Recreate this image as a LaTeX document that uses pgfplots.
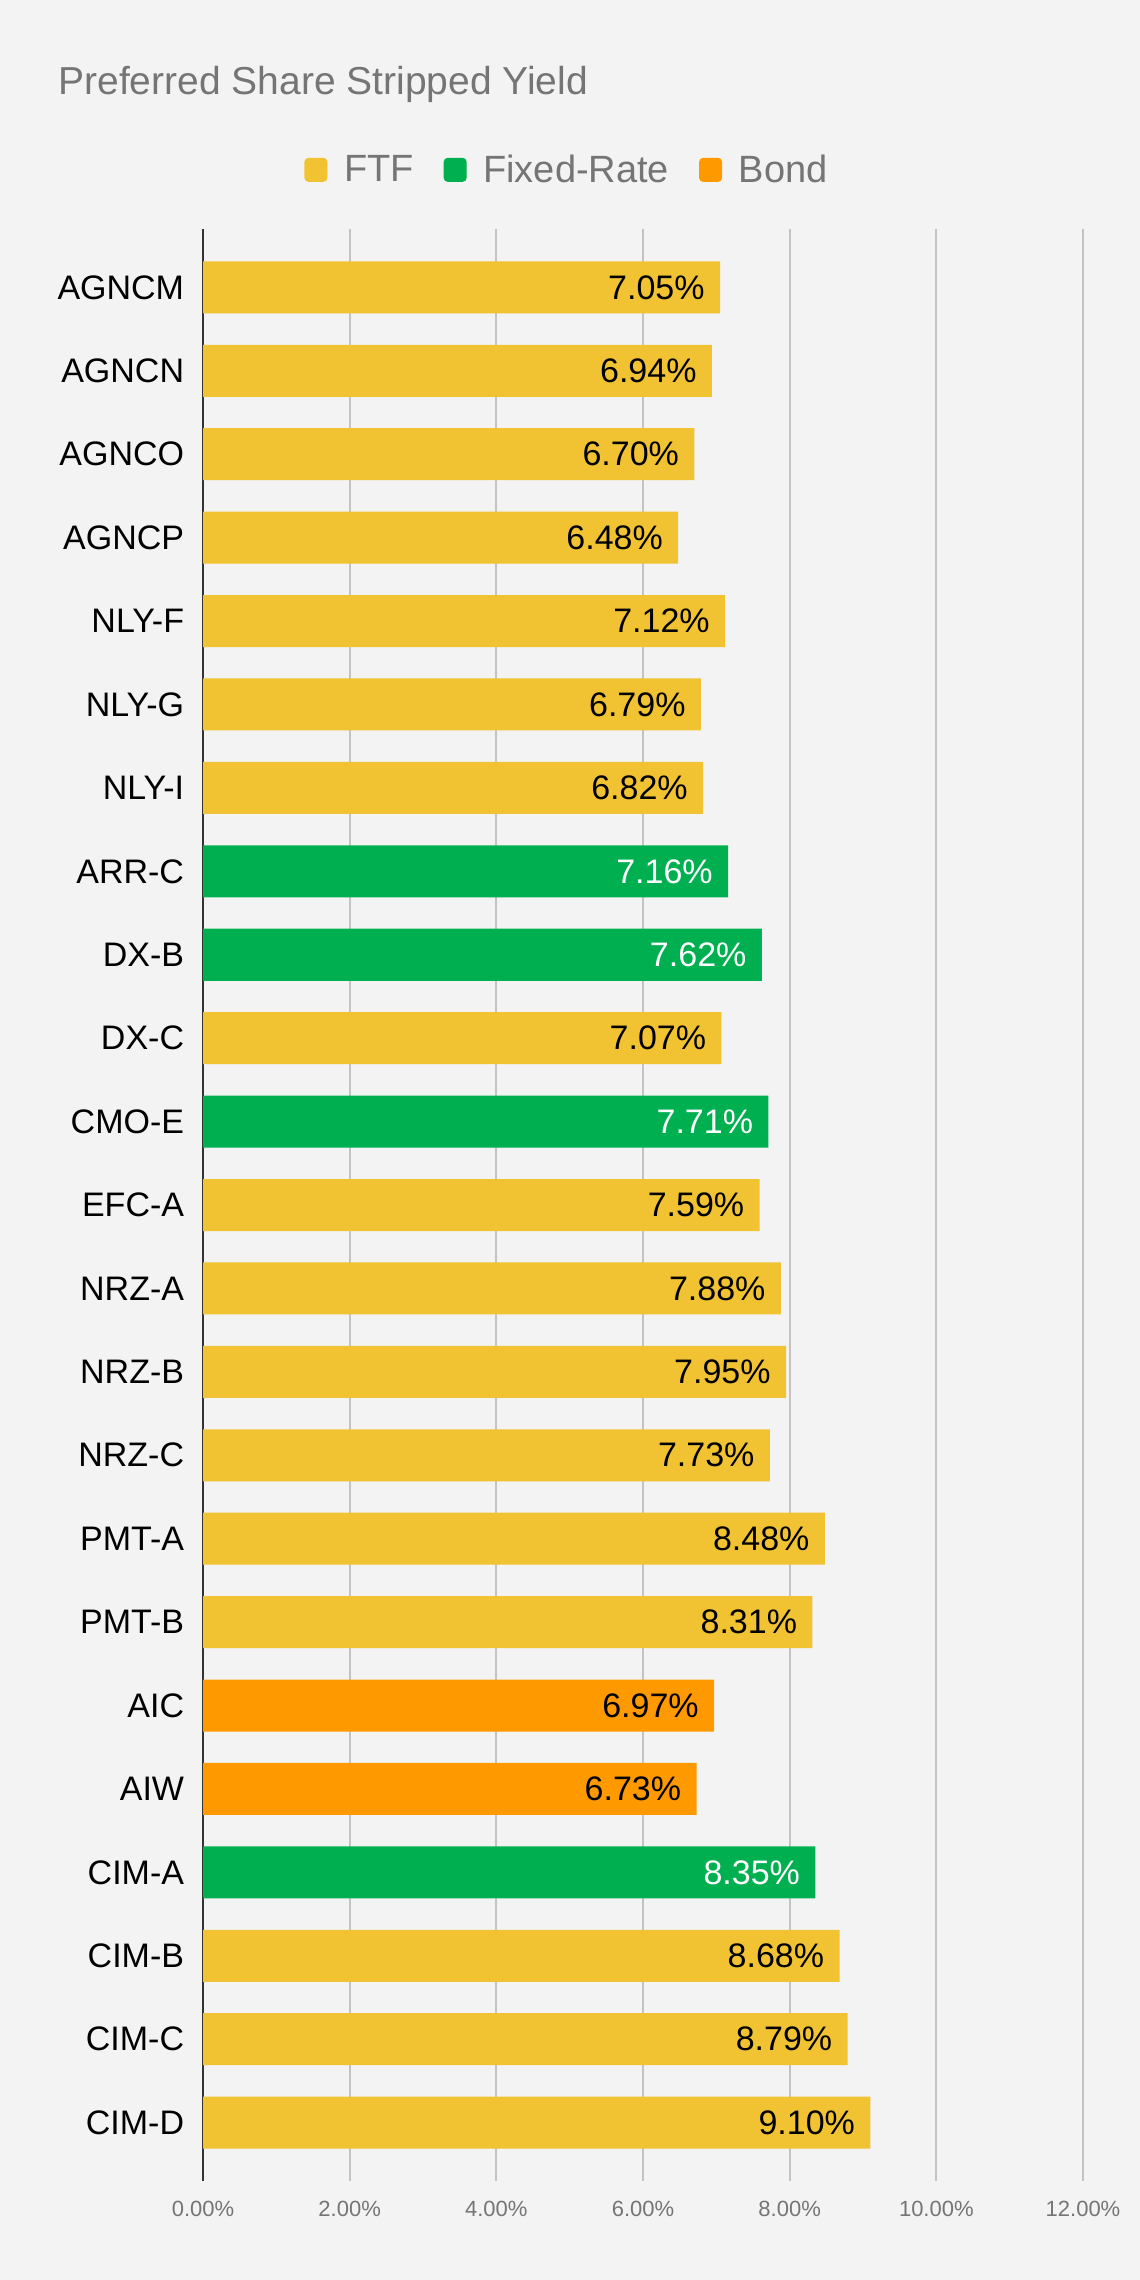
\documentclass[border=0pt]{standalone}
\usepackage{fontspec}
\setmainfont{Liberation Sans}
\usepackage{pgfplots}
\pgfplotsset{compat=1.18}
\definecolor{bg}{HTML}{F3F3F3}
\definecolor{ftf}{HTML}{F1C232}
\definecolor{fixed}{HTML}{00B050}
\definecolor{bond}{HTML}{FF9900}
\definecolor{txtgray}{HTML}{757575}
\definecolor{gridgray}{HTML}{C3C3C3}
\definecolor{axisdark}{HTML}{333333}
\pgfplotsset{sq legend/.style={legend image code/.code={\fill[##1,draw=none,rounded corners=2pt] (0pt,-6pt) rectangle (11.5pt,6pt);}}}
\begin{document}
\begin{tikzpicture}
\fill[bg] (0pt,0pt) rectangle (570pt,1140pt);
\node[anchor=base west, text=txtgray, font=\fontsize{19.5}{23}\selectfont, inner sep=0pt] at (29pt,1092.5pt) {Preferred Share Stripped Yield};
\begin{axis}[
  at={(101.5pt,49.5pt)}, anchor=south west,
  scale only axis, width=440pt, height=976pt,
  xmin=0, xmax=12, ymin=-0.7, ymax=22.7, y dir=reverse,
  xbar, bar shift=0pt, bar width=26pt,
  axis line style={draw=none},
  tick style={draw=none},
  /pgf/number format/assume math mode=true,
  xtick={0,2,4,6,8,10,12},
  xticklabels={0.00\%,2.00\%,4.00\%,6.00\%,8.00\%,10.00\%,12.00\%},
  xticklabel style={font=\fontsize{11}{13}\selectfont, text=txtgray, inner sep=0pt, yshift=-10pt},
  ytick={0,...,22},
  yticklabels={AGNCM,AGNCN,AGNCO,AGNCP,NLY-F,NLY-G,NLY-I,ARR-C,DX-B,DX-C,CMO-E,EFC-A,NRZ-A,NRZ-B,NRZ-C,PMT-A,PMT-B,AIC,AIW,CIM-A,CIM-B,CIM-C,CIM-D},
  yticklabel style={font=\fontsize{17}{20}\selectfont, inner sep=0pt, xshift=-5pt},
  xmajorgrids, major grid style={gridgray, line width=1pt},
  extra x ticks={0}, extra x tick labels={},
  extra x tick style={grid=major, major grid style={axisdark, line width=1pt}},
  point meta=x,
  nodes near coords={\pgfmathprintnumber[fixed,fixed zerofill,precision=2]{\pgfplotspointmeta}\%},
  nodes near coords style={anchor=east, inner sep=0pt, xshift=-7.5pt, font=\fontsize{17}{20}\selectfont},
  legend columns=-1,
  legend style={at={(0.1148,1.0303)}, anchor=west, draw=none, fill=none, inner sep=0pt, text=txtgray, font=\fontsize{19}{22}\selectfont,
    /tikz/every odd column/.append style={column sep=6.3pt},
    /tikz/every even column/.append style={column sep=13pt}},
  legend cell align=left,
]
\addplot[fill=ftf, draw=none, sq legend, every node near coord/.append style={text=black}] coordinates {
(7.05,0) (6.94,1) (6.70,2) (6.48,3) (7.12,4) (6.79,5) (6.82,6) (7.07,9) (7.59,11) (7.88,12) (7.95,13) (7.73,14) (8.48,15) (8.31,16) (8.68,20) (8.79,21) (9.10,22)};
\addlegendentry{FTF}
\addplot[fill=fixed, draw=none, sq legend, every node near coord/.append style={text=white}] coordinates {
(7.16,7) (7.62,8) (7.71,10) (8.35,19)};
\addlegendentry{Fixed-Rate}
\addplot[fill=bond, draw=none, sq legend, every node near coord/.append style={text=black}] coordinates {
(6.97,17) (6.73,18)};
\addlegendentry{Bond}
\end{axis}
\end{tikzpicture}
\end{document}
